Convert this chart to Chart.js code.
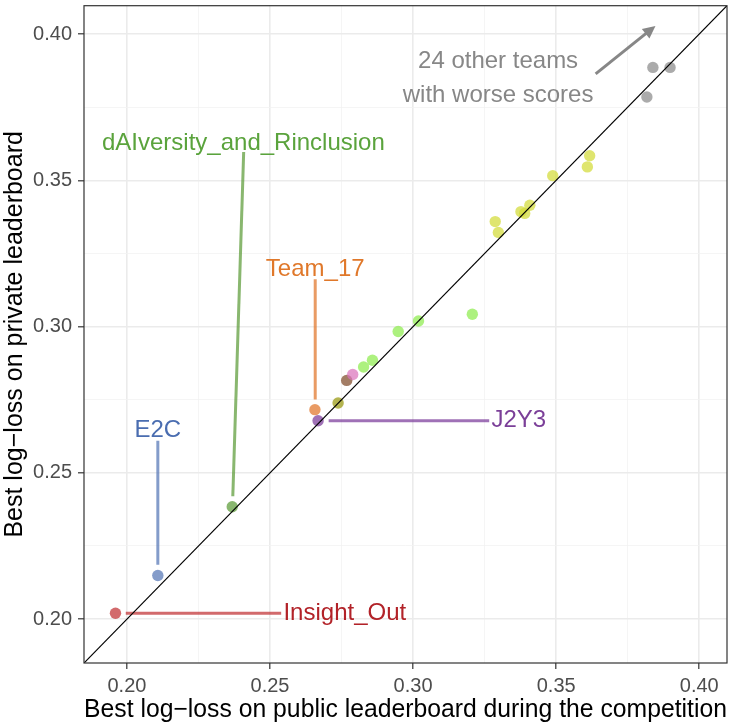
<!DOCTYPE html>
<html>
<head>
<meta charset="utf-8">
<script src="https://cdn.jsdelivr.net/npm/chart.js@4.4.1/dist/chart.umd.min.js"></script>
<style>
  html, body { margin: 0; padding: 0; background: #fff; }
  #wrap { width: 736px; height: 728px; }
</style>
</head>
<body>
<div id="wrap"><canvas id="scoreChart" width="736" height="728"></canvas></div>
<script>
// Same range on both axes, so the y = x line runs corner to corner
const axisMin = 0.185;
const axisMax = 0.4097;
const majorTicks = [0.20, 0.25, 0.30, 0.35, 0.40];
const minorTicks = [0.225, 0.275, 0.325, 0.375];

// Teams that get a name label
const namedTeams = ['Insight_Out', 'E2C', 'dAIversity_and_Rinclusion', 'Team_17', 'J2Y3'];
const namedPublic = [0.1960, 0.2108, 0.2368, 0.2657, 0.2668];
const namedPrivate = [0.2020, 0.2149, 0.2384, 0.2716, 0.2678];

// The other teams on the chart (group decides the colour)
const otherGroup = ['olive', 'brown', 'pink',
  'green', 'green', 'green', 'green', 'green',
  'yellow', 'yellow', 'yellow', 'yellow', 'yellow', 'yellow', 'yellow', 'yellow',
  'gray', 'gray', 'gray'];
const otherPublic = [0.2738, 0.2768, 0.2789,
  0.2827, 0.2858, 0.2948, 0.3019, 0.3207,
  0.3287, 0.3298, 0.3377, 0.3390, 0.3408, 0.3488, 0.3609, 0.3617,
  0.3817, 0.3838, 0.3898];
const otherPrivate = [0.2739, 0.2816, 0.2836,
  0.2862, 0.2885, 0.2983, 0.3019, 0.3042,
  0.3359, 0.3322, 0.3393, 0.3387, 0.3415, 0.3516, 0.3546, 0.3584,
  0.3785, 0.3886, 0.3886];

const noteLines = ['24 other teams', 'with worse scores'];

// colours
const teamColor = {
  'Insight_Out': 'rgba(193,48,51,0.72)',
  'E2C': 'rgba(85,118,182,0.72)',
  'dAIversity_and_Rinclusion': 'rgba(91,155,56,0.72)',
  'Team_17': 'rgba(224,116,40,0.72)',
  'J2Y3': 'rgba(122,58,154,0.72)',
  olive: 'rgba(152,152,14,0.72)',
  brown: 'rgba(128,75,42,0.72)',
  pink: 'rgba(219,115,187,0.72)',
  green: 'rgba(142,235,78,0.72)',
  yellow: 'rgba(210,219,56,0.72)',
  gray: 'rgba(139,139,139,0.72)'
};
const labelColor = {
  'Insight_Out': '#b22228',
  'E2C': '#4a6db0',
  'dAIversity_and_Rinclusion': '#5aa33c',
  'Team_17': '#e0782a',
  'J2Y3': '#7b3f98'
};

// where each name label sits, and its leader segment (data units)
const labelSpots = {
  'Insight_Out': { x: 0.2547, y: 0.2020, align: 'left', seg: [0.1996, 0.2020, 0.2539, 0.2020] },
  'E2C': { x: 0.2108, y: 0.2644, align: 'center', seg: [0.2108, 0.2186, 0.2108, 0.2610] },
  'dAIversity_and_Rinclusion': { x: 0.2407, y: 0.3627, align: 'center', seg: [0.2370, 0.2420, 0.2408, 0.3597] },
  'Team_17': { x: 0.2658, y: 0.3194, align: 'center', seg: [0.2658, 0.2751, 0.2658, 0.3162] },
  'J2Y3': { x: 0.3274, y: 0.2678, align: 'left', seg: [0.2705, 0.2678, 0.3266, 0.2678] }
};
const noteSpot = { x: 0.3297, y: [0.3908, 0.3790] };
const arrowSpot = [0.3638, 0.3864, 0.3847, 0.4028];

const isMajor = v => Math.abs(v * 20 - Math.round(v * 20)) < 1e-6;

const points = [];
const pointColors = [];
namedTeams.forEach((t, i) => {
  points.push({ x: namedPublic[i], y: namedPrivate[i] });
  pointColors.push(teamColor[t]);
});
otherGroup.forEach((g, i) => {
  points.push({ x: otherPublic[i], y: otherPrivate[i] });
  pointColors.push(teamColor[g]);
});

const datasets = [
  {
    // y = x reference line (drawn on top)
    data: [{ x: axisMin, y: axisMin }, { x: axisMax, y: axisMax }],
    showLine: true, borderColor: '#000', borderWidth: 1.2, pointRadius: 0
  },
  {
    data: points,
    backgroundColor: pointColors,
    borderWidth: 0,
    pointRadius: 5.7
  }
];
namedTeams.forEach(t => {
  const s = labelSpots[t].seg;
  datasets.push({
    data: [{ x: s[0], y: s[1] }, { x: s[2], y: s[3] }],
    showLine: true, borderColor: teamColor[t], borderWidth: 3, pointRadius: 0
  });
});

const notesPlugin = {
  id: 'notes',
  afterDatasetsDraw(chart) {
    const { ctx, chartArea: a, scales: { x, y } } = chart;
    ctx.save();
    ctx.font = '24px "Liberation Sans", Arial, sans-serif';
    ctx.textBaseline = 'middle';

    namedTeams.forEach(t => {
      const sp = labelSpots[t];
      ctx.fillStyle = labelColor[t];
      ctx.textAlign = sp.align;
      ctx.fillText(t, x.getPixelForValue(sp.x), y.getPixelForValue(sp.y));
    });

    ctx.fillStyle = '#878787';
    ctx.textAlign = 'center';
    noteLines.forEach((line, i) => {
      ctx.fillText(line, x.getPixelForValue(noteSpot.x), y.getPixelForValue(noteSpot.y[i]));
    });

    // arrow towards the teams off the chart
    const x1 = x.getPixelForValue(arrowSpot[0]), y1 = y.getPixelForValue(arrowSpot[1]);
    const x2 = x.getPixelForValue(arrowSpot[2]), y2 = y.getPixelForValue(arrowSpot[3]);
    const ang = Math.atan2(y2 - y1, x2 - x1);
    ctx.strokeStyle = '#878787';
    ctx.lineWidth = 3;
    ctx.beginPath();
    ctx.moveTo(x1, y1);
    ctx.lineTo(x2 - 8 * Math.cos(ang), y2 - 8 * Math.sin(ang));
    ctx.stroke();
    ctx.beginPath();
    ctx.moveTo(x2, y2);
    ctx.lineTo(x2 - 14 * Math.cos(ang - 0.45), y2 - 14 * Math.sin(ang - 0.45));
    ctx.lineTo(x2 - 14 * Math.cos(ang + 0.45), y2 - 14 * Math.sin(ang + 0.45));
    ctx.closePath();
    ctx.fillStyle = '#878787';
    ctx.fill();

    // panel border
    ctx.strokeStyle = '#333';
    ctx.lineWidth = 1.2;
    ctx.strokeRect(a.left, a.top, a.right - a.left, a.bottom - a.top);
    ctx.restore();
  }
};

function axisOptions(title, isY) {
  return {
    type: 'linear',
    min: axisMin,
    max: axisMax,
    afterBuildTicks: s => {
      s.ticks = majorTicks.concat(minorTicks).sort((a, b) => a - b).map(v => ({ value: v }));
    },
    afterFit: s => {
      // fixed axis band, and no extra room for half-labels at the ends
      if (isY) {
        s.width = 84;
        s.paddingTop = 0;
        s.paddingBottom = 0;
      } else {
        s.height = 65;
        s.paddingLeft = 0;
        s.paddingRight = 0;
      }
    },
    border: { display: false },
    grid: {
      color: c => isMajor(c.tick.value) ? '#ebebeb' : '#f3f3f3',
      lineWidth: c => isMajor(c.tick.value) ? 1.6 : 0.8,
      tickColor: c => isMajor(c.tick.value) ? '#333333' : 'rgba(0,0,0,0)',
      tickWidth: 1.2,
      tickLength: 6,
      drawTicks: true
    },
    ticks: {
      autoSkip: false,
      maxRotation: 0,
      padding: isY ? 6 : 5,
      color: '#4d4d4d',
      font: { family: '"Liberation Sans", Arial, sans-serif', size: 20 },
      callback: v => isMajor(v) ? v.toFixed(2) : ''
    },
    title: {
      display: true,
      text: title,
      color: '#000',
      font: { family: '"Liberation Sans", Arial, sans-serif', size: 25 },
      padding: isY ? { top: 0, bottom: 0 } : { top: 0, bottom: 3 }
    }
  };
}

new Chart(document.getElementById('scoreChart'), {
  type: 'scatter',
  data: { datasets },
  options: {
    responsive: false,
    animation: false,
    layout: { padding: { top: 1, right: 9, left: 0, bottom: 0 } },
    plugins: { legend: { display: false }, tooltip: { enabled: false } },
    scales: {
      x: axisOptions('Best log\u2212loss on public leaderboard during the competition', false),
      y: axisOptions('Best log\u2212loss on private leaderboard', true)
    }
  },
  plugins: [notesPlugin]
});
</script>
</body>
</html>
